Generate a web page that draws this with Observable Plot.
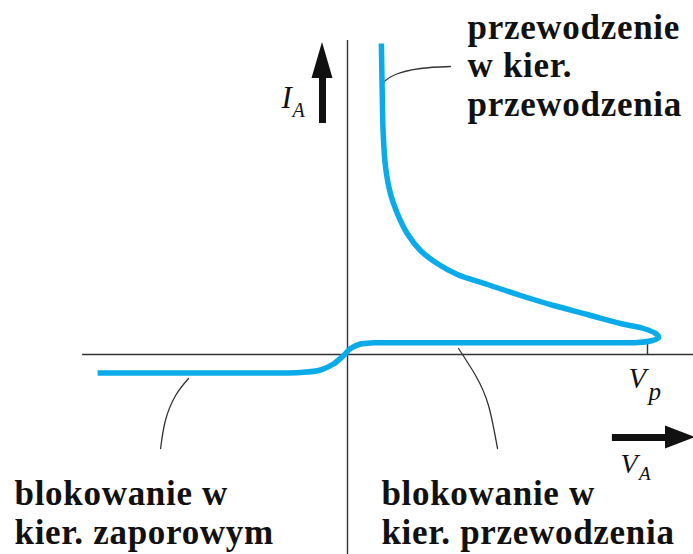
<!DOCTYPE html>
<html>
<head>
<meta charset="utf-8">
<script src="https://cdn.jsdelivr.net/npm/d3@7"></script>
<script src="https://cdn.jsdelivr.net/npm/@observablehq/plot@0.6"></script>
<style>
  html, body { margin: 0; padding: 0; background: #fff; }
  #chart svg { display: block; }
</style>
</head>
<body>
<div id="chart"></div>
<script>
// Thyristor current–voltage characteristic (normalised: Vp = 1)
// reverse blocking → forward blocking → breakover loop → forward conduction
const curveV = [-0.833, -0.5, -0.25, -0.157, -0.09, -0.047, -0.013, 0.01, 0.043, 0.087, 0.2, 0.5, 0.853, 0.967, 1.017, 1.037, 1.027, 0.987, 0.91, 0.8, 0.687, 0.577, 0.467, 0.366, 0.299, 0.243, 0.199, 0.166, 0.143, 0.127, 0.119, 0.115, 0.113];
const curveI = [-0.185, -0.185, -0.185, -0.18, -0.155, -0.095, -0.01, 0.06, 0.105, 0.117, 0.117, 0.117, 0.117, 0.12, 0.14, 0.17, 0.21, 0.26, 0.31, 0.40, 0.49, 0.59, 0.70, 0.80, 0.91, 1.04, 1.21, 1.41, 1.61, 1.87, 2.21, 2.74, 3.11];

// Breakover voltage marker
const Vp = 1;

// Region labels (bold) and their leader lines
const regionLabels = [
  "przewodzenie\nw kier.\nprzewodzenia",
  "blokowanie w\nkier. zaporowym",
  "blokowanie w\nkier. przewodzenia"
];
const leaderV = [
  [0.117, 0.16, 0.243, 0.343],
  [-0.53, -0.573, -0.607, -0.623],
  [0.37, 0.427, 0.47, 0.5]
];
const leaderI = [
  [2.72, 2.80, 2.86, 2.88],
  [-0.24, -0.41, -0.66, -0.94],
  [0.06, -0.21, -0.51, -0.94]
];

const curve = curveV.map((v, i) => ({V: v, I: curveI[i]}));
const leaders = leaderV.flatMap((vs, k) => vs.map((v, i) => ({k, V: v, I: leaderI[k][i]})));

const labels = [
  {text: regionLabels[0], V: 0.4, I: 2.39},
  {text: regionLabels[1], V: -1.11, I: -1.89},
  {text: regionLabels[2], V: 0.113, I: -1.89}
];

const serif = "'Liberation Serif', 'Times New Roman', serif";
const blue = "#0aabe8";
const ink = "#111";

// Axis arrows (I_A and V_A)
const iArrow = {V: -0.0833, from: 2.31, base: 2.76, tip: 3.12, half: 0.035};
const vArrow = {I: -0.83, from: 0.883, base: 1.06, tip: 1.16, half: 0.115};

const italic = {textAnchor: "start", lineAnchor: "bottom", fontFamily: serif, fontStyle: "italic", fill: ink};

const chart = Plot.plot({
  width: 693,
  height: 554,
  margin: 0,
  x: {domain: [-347 / 300, 346 / 300], axis: null},
  y: {domain: [-2, 3.54], axis: null},
  marks: [
    // coordinate axes
    Plot.ruleX([0], {y1: -2, y2: 3.14, stroke: "#333", strokeWidth: 1.4}),
    Plot.ruleY([0], {x1: -0.883, x2: 1.16, stroke: "#333", strokeWidth: 1.4}),
    Plot.ruleX([Vp], {y1: 0, y2: 0.117, stroke: "#333", strokeWidth: 1.4}),

    // leader lines
    Plot.line(leaders, {x: "V", y: "I", z: "k", curve: "natural", stroke: "#333", strokeWidth: 1.3}),

    // characteristic
    Plot.line(curve, {x: "V", y: "I", curve: "catmull-rom", stroke: blue, strokeWidth: 5.5, strokeLinejoin: "round", strokeLinecap: "butt"}),

    // I_A arrow
    Plot.ruleX([iArrow.V], {y1: iArrow.from, y2: iArrow.base + 0.05, stroke: ink, strokeWidth: 7}),
    Plot.areaX([
      {y: iArrow.base, x1: iArrow.V - iArrow.half, x2: iArrow.V + iArrow.half},
      {y: iArrow.tip, x1: iArrow.V, x2: iArrow.V}
    ], {y: "y", x1: "x1", x2: "x2", fill: ink}),

    // V_A arrow
    Plot.ruleY([vArrow.I], {x1: vArrow.from, x2: vArrow.base + 0.02, stroke: ink, strokeWidth: 7}),
    Plot.areaY([
      {x: vArrow.base, y1: vArrow.I - vArrow.half, y2: vArrow.I + vArrow.half},
      {x: vArrow.tip, y1: vArrow.I, y2: vArrow.I}
    ], {x: "x", y1: "y1", y2: "y2", fill: ink}),

    // axis symbols
    Plot.text(["I"], {...italic, x: -0.22, y: 2.47, fontSize: 31}),
    Plot.text(["A"], {...italic, x: -0.183, y: 2.38, fontSize: 20}),
    Plot.text(["V"], {...italic, x: 0.937, y: -0.33, fontSize: 29}),
    Plot.text(["p"], {...italic, x: 1.003, y: -0.45, fontSize: 25}),
    Plot.text(["V"], {...italic, x: 0.91, y: -1.18, fontSize: 28}),
    Plot.text(["A"], {...italic, x: 0.972, y: -1.25, fontSize: 19}),

    // region labels
    Plot.text(labels, {x: "V", y: "I", text: "text", textAnchor: "start", lineAnchor: "bottom", lineHeight: 1.1, fontFamily: serif, fontWeight: "bold", fontSize: 35, fill: ink})
  ]
});

// slightly wider tracking for the bold region labels
d3.select(chart).selectAll("text")
  .filter(function () { return this.getAttribute("font-weight") === "bold" || (this.parentNode && this.parentNode.getAttribute && this.parentNode.getAttribute("font-weight") === "bold"); })
  .style("letter-spacing", "0.7px");

document.getElementById("chart").append(chart);
</script>
</body>
</html>
